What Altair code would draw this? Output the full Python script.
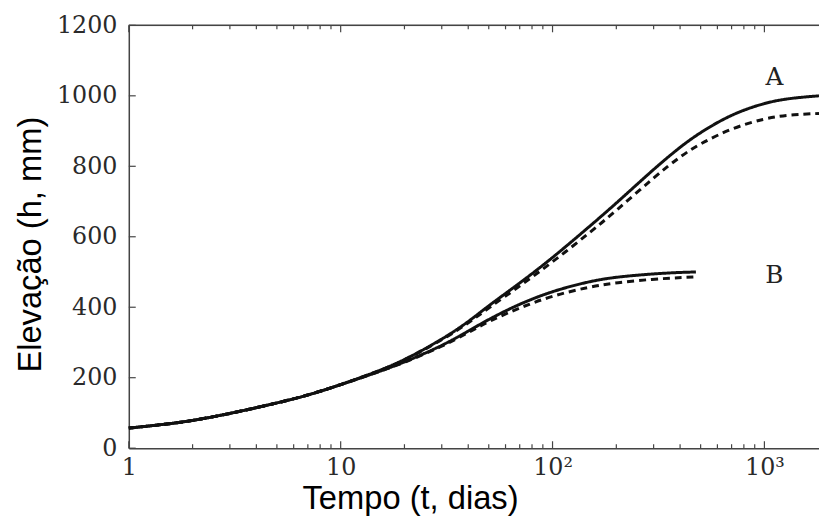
import altair as alt
import pandas as pd

# ---- data ----
t_A = [1, 1.5, 2, 3, 5, 7, 10, 15, 20, 30, 40, 50, 70, 100, 150, 200, 300, 400, 500, 700, 1000, 1300, 1810]
A_solid = [57, 68, 78, 98, 128, 150, 180, 218, 250, 308, 358, 405, 468, 540, 630, 695, 792, 855, 897, 948, 980, 993, 1000]
A_dashed = [57, 68, 78, 98, 128, 150, 180, 218, 249, 306, 355, 398, 460, 528, 612, 674, 768, 828, 865, 908, 936, 946, 950]

t_B = [1, 1.5, 2, 3, 5, 7, 10, 15, 20, 30, 40, 50, 70, 100, 150, 200, 300, 400, 475]
B_solid = [57, 68, 78, 98, 128, 150, 180, 216, 244, 290, 332, 366, 410, 446, 474, 486, 495, 499, 500]
B_dashed = [57, 68, 78, 98, 128, 150, 180, 216, 243, 288, 328, 360, 399, 433, 458, 470, 480, 484, 486]

x_major = [1, 10, 100, 1000]
x_minor = [2, 3, 4, 5, 6, 7, 8, 9, 20, 30, 40, 50, 60, 70, 80, 90,
           200, 300, 400, 500, 600, 700, 800, 900]
y_ticks = [0, 200, 400, 600, 800, 1000, 1200]

curve_names = ["A", "B"]
name_t = [1114, 1114]
name_h = [1031, 469]

# ---- tables ----
rows = []
for t, h in zip(t_A, A_solid):
    rows.append({"t": t, "h": h, "curve": "A_solid", "style": "solid"})
for t, h in zip(t_A, A_dashed):
    rows.append({"t": t, "h": h, "curve": "A_dashed", "style": "dashed"})
for t, h in zip(t_B, B_solid):
    rows.append({"t": t, "h": h, "curve": "B_solid", "style": "solid"})
for t, h in zip(t_B, B_dashed):
    rows.append({"t": t, "h": h, "curve": "B_dashed", "style": "dashed"})
df = pd.DataFrame(rows)

W, H = 697, 427
AX = "#444444"
LAB = "#2a2a2a"
SERIF = "DejaVu Serif"
SANS = "Liberation Sans"

xscale = alt.Scale(type="log", domain=[1, 1810], nice=False)
yscale = alt.Scale(domain=[0, 1200], nice=False, zero=False)

label_expr = ("datum.value == 1 ? '1' : datum.value == 10 ? '10' : "
              "datum.value == 100 ? '10\u00b2' : '10\u00b3'")

xaxis = alt.Axis(values=x_major, labelExpr=label_expr, ticks=False, grid=False,
                 domain=True, domainColor=AX, domainWidth=1.5,
                 labelFont=SERIF, labelFontSize=24, labelColor=LAB,
                 labelPadding=8, labelFlush=False,
                 title="Tempo (t, dias)", titleFont=SANS, titleFontSize=33,
                 titleFontWeight="normal", titleColor="#000000",
                 titleX=284, titleY=61, titleAlign="center",
                 titleBaseline="alphabetic")
yaxis = alt.Axis(values=y_ticks, ticks=False, grid=False, format="d",
                 domain=True, domainColor=AX, domainWidth=1.5,
                 labelFont=SERIF, labelFontSize=24, labelColor=LAB,
                 labelPadding=12,
                 title="Elevação (h, mm)", titleFont=SANS, titleFontSize=33,
                 titleFontWeight="normal", titleColor="#000000",
                 titleX=-89, titleY=221, titleAlign="center",
                 titleBaseline="alphabetic", titleAngle=-90)

X = alt.X("t:Q", scale=xscale, axis=xaxis)
Y = alt.Y("h:Q", scale=yscale, axis=yaxis)

lines = alt.Chart(df).mark_line(color="#111111", strokeWidth=3, interpolate="basis").encode(
    x=X, y=Y,
    strokeDash=alt.StrokeDash("style:N",
                              scale=alt.Scale(domain=["solid", "dashed"], range=[[1, 0], [7, 5]]),
                              legend=None),
    detail="curve:N",
)

major_df = pd.DataFrame({"t": x_major})
minor_df = pd.DataFrame({"t": x_minor})
ytick_df = pd.DataFrame({"h": y_ticks})

def xticks(data, y0, y1):
    return alt.Chart(data).mark_rule(color=AX, strokeWidth=1.2).encode(
        x=X, y=alt.value(y0), y2=alt.value(y1))

bottom_major = xticks(major_df, H, H - 7)
bottom_minor = xticks(minor_df, H, H - 4)
top_major = xticks(major_df, 0, 7)
top_minor = xticks(minor_df, 0, 4)

left_ticks = alt.Chart(ytick_df).mark_rule(color=AX, strokeWidth=1.2).encode(
    y=Y, x=alt.value(0), x2=alt.value(7))

top_border = alt.Chart(pd.DataFrame({"k": [0]})).mark_rule(color=AX, strokeWidth=1.5).encode(
    x=alt.value(0), x2=alt.value(W), y=alt.value(0))

names_df = pd.DataFrame({"name": curve_names, "t": name_t, "h": name_h})
names = alt.Chart(names_df).mark_text(font=SERIF, fontSize=25, color="#222222",
                                      align="center", baseline="alphabetic").encode(
    x=X, y=Y, text="name:N")

chart = alt.layer(
    lines, bottom_major, bottom_minor, top_major, top_minor, left_ticks, top_border, names
).properties(
    width=W, height=H,
    autosize=alt.AutoSizeParams(type="none"),
    padding={"left": 122, "top": 15, "right": 0, "bottom": 69},
).configure_view(stroke=None).configure(background="white")

chart.save("out.html", embed_options={"renderer": "svg", "actions": False})
